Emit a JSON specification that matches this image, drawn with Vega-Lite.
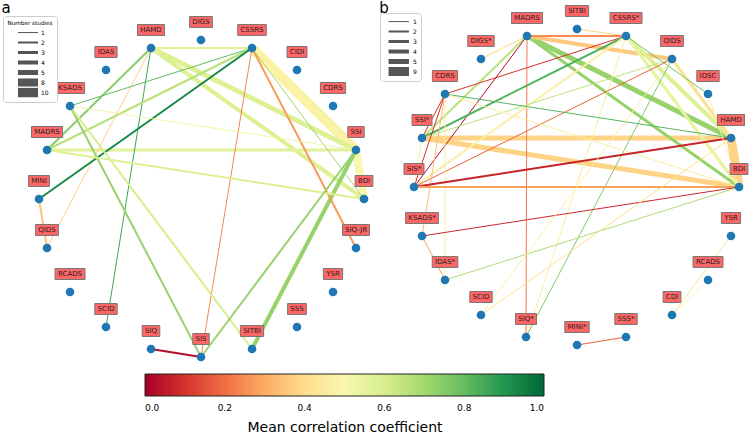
{
"$schema": "https://vega.github.io/schema/vega-lite/v6.json",
"width": 750, "height": 434,
"autosize": {"type": "fit", "contains": "padding"},
"padding": 0,
"config": {"view": {"stroke": null}, "font": "DejaVu Sans"},
"datasets": {
"nodes": [
{"id":"a:HAMD","p":"a","label":"HAMD","x":151,"y":48},
{"id":"a:DIGS","p":"a","label":"DIGS","x":201,"y":40},
{"id":"a:CSSRS","p":"a","label":"CSSRS","x":252,"y":48},
{"id":"a:IDAS","p":"a","label":"IDAS","x":106,"y":70},
{"id":"a:CIDI","p":"a","label":"CIDI","x":297,"y":70},
{"id":"a:KSADS","p":"a","label":"KSADS","x":70,"y":106},
{"id":"a:CDRS","p":"a","label":"CDRS","x":333,"y":106},
{"id":"a:MADRS","p":"a","label":"MADRS","x":47,"y":150},
{"id":"a:SSI","p":"a","label":"SSI","x":356,"y":150},
{"id":"a:MINI","p":"a","label":"MINI","x":39,"y":199},
{"id":"a:BDI","p":"a","label":"BDI","x":364,"y":199},
{"id":"a:QIDS","p":"a","label":"QIDS","x":47,"y":248},
{"id":"a:SIQ-JR","p":"a","label":"SIQ-JR","x":356,"y":248},
{"id":"a:RCADS","p":"a","label":"RCADS","x":70,"y":292},
{"id":"a:YSR","p":"a","label":"YSR","x":333,"y":292},
{"id":"a:SCID","p":"a","label":"SCID","x":106,"y":327},
{"id":"a:SSS","p":"a","label":"SSS","x":297,"y":327},
{"id":"a:SIQ","p":"a","label":"SIQ","x":151,"y":349},
{"id":"a:SITBI","p":"a","label":"SITBI","x":252,"y":349},
{"id":"a:SIS","p":"a","label":"SIS","x":201,"y":357},
{"id":"b:MADRS","p":"b","label":"MADRS","x":527,"y":36},
{"id":"b:SITBI","p":"b","label":"SITBI","x":577,"y":29},
{"id":"b:CSSRS*","p":"b","label":"CSSRS*","x":626,"y":36},
{"id":"b:DIGS*","p":"b","label":"DIGS*","x":481,"y":59},
{"id":"b:QIDS","p":"b","label":"QIDS","x":672,"y":59},
{"id":"b:CDRS","p":"b","label":"CDRS","x":445,"y":94},
{"id":"b:IDSC","p":"b","label":"IDSC","x":708,"y":94},
{"id":"b:SSI*","p":"b","label":"SSI*","x":422,"y":138},
{"id":"b:HAMD","p":"b","label":"HAMD","x":731,"y":138},
{"id":"b:SIS*","p":"b","label":"SIS*","x":414,"y":187},
{"id":"b:BDI","p":"b","label":"BDI","x":739,"y":187},
{"id":"b:KSADS*","p":"b","label":"KSADS*","x":422,"y":236},
{"id":"b:YSR","p":"b","label":"YSR","x":731,"y":236},
{"id":"b:IDAS*","p":"b","label":"IDAS*","x":445,"y":280},
{"id":"b:RCADS","p":"b","label":"RCADS","x":708,"y":280},
{"id":"b:SCID","p":"b","label":"SCID","x":481,"y":315},
{"id":"b:CDI","p":"b","label":"CDI","x":672,"y":315},
{"id":"b:SIQ*","p":"b","label":"SIQ*","x":526,"y":337},
{"id":"b:SSS*","p":"b","label":"SSS*","x":626,"y":337},
{"id":"b:MINI*","p":"b","label":"MINI*","x":577,"y":345}
],
"edges": [
{"p":"a","s":"a:CSSRS","t":"a:SSI","r":0.48,"n":10},
{"p":"a","s":"a:SSI","t":"a:BDI","r":0.5,"n":8},
{"p":"a","s":"a:HAMD","t":"a:SSI","r":0.58,"n":5},
{"p":"a","s":"a:HAMD","t":"a:BDI","r":0.58,"n":4},
{"p":"a","s":"a:MADRS","t":"a:SSI","r":0.57,"n":3},
{"p":"a","s":"a:SITBI","t":"a:SSI","r":0.72,"n":4},
{"p":"a","s":"a:HAMD","t":"a:CSSRS","r":0.57,"n":2},
{"p":"a","s":"a:HAMD","t":"a:MADRS","r":0.74,"n":2},
{"p":"a","s":"a:HAMD","t":"a:QIDS","r":0.38,"n":1},
{"p":"a","s":"a:HAMD","t":"a:SCID","r":0.86,"n":1},
{"p":"a","s":"a:CSSRS","t":"a:KSADS","r":0.8,"n":1},
{"p":"a","s":"a:CSSRS","t":"a:MADRS","r":0.66,"n":2},
{"p":"a","s":"a:CSSRS","t":"a:MINI","r":0.93,"n":2},
{"p":"a","s":"a:CSSRS","t":"a:SIS","r":0.24,"n":1},
{"p":"a","s":"a:CSSRS","t":"a:SIQ-JR","r":0.27,"n":2},
{"p":"a","s":"a:CSSRS","t":"a:BDI","r":0.7,"n":1},
{"p":"a","s":"a:KSADS","t":"a:SSI","r":0.52,"n":1},
{"p":"a","s":"a:KSADS","t":"a:SIS","r":0.72,"n":2},
{"p":"a","s":"a:KSADS","t":"a:SITBI","r":0.6,"n":2},
{"p":"a","s":"a:MADRS","t":"a:BDI","r":0.58,"n":2},
{"p":"a","s":"a:MINI","t":"a:QIDS","r":0.35,"n":2},
{"p":"a","s":"a:SIQ","t":"a:SIS","r":0.03,"n":2},
{"p":"a","s":"a:SIS","t":"a:SSI","r":0.72,"n":2},
{"p":"b","s":"b:HAMD","t":"b:BDI","r":0.38,"n":9},
{"p":"b","s":"b:SSI*","t":"b:HAMD","r":0.38,"n":5},
{"p":"b","s":"b:SSI*","t":"b:BDI","r":0.38,"n":5},
{"p":"b","s":"b:MADRS","t":"b:HAMD","r":0.72,"n":5},
{"p":"b","s":"b:MADRS","t":"b:BDI","r":0.72,"n":3},
{"p":"b","s":"b:MADRS","t":"b:QIDS","r":0.36,"n":4},
{"p":"b","s":"b:CSSRS*","t":"b:HAMD","r":0.58,"n":4},
{"p":"b","s":"b:CSSRS*","t":"b:BDI","r":0.55,"n":3},
{"p":"b","s":"b:QIDS","t":"b:HAMD","r":0.42,"n":3},
{"p":"b","s":"b:SITBI","t":"b:CSSRS*","r":0.38,"n":1},
{"p":"b","s":"b:MADRS","t":"b:CSSRS*","r":0.25,"n":2},
{"p":"b","s":"b:MADRS","t":"b:DIGS*","r":0.38,"n":1},
{"p":"b","s":"b:MADRS","t":"b:SSI*","r":0.65,"n":2},
{"p":"b","s":"b:MADRS","t":"b:SIS*","r":0.03,"n":1},
{"p":"b","s":"b:MADRS","t":"b:SIQ*","r":0.22,"n":1},
{"p":"b","s":"b:CSSRS*","t":"b:CDRS","r":0.1,"n":1},
{"p":"b","s":"b:CSSRS*","t":"b:SSI*","r":0.83,"n":2},
{"p":"b","s":"b:CSSRS*","t":"b:IDSC","r":0.78,"n":1},
{"p":"b","s":"b:CSSRS*","t":"b:SIS*","r":0.47,"n":2},
{"p":"b","s":"b:CSSRS*","t":"b:SIQ*","r":0.47,"n":1},
{"p":"b","s":"b:QIDS","t":"b:SSI*","r":0.65,"n":1},
{"p":"b","s":"b:QIDS","t":"b:SIS*","r":0.18,"n":1},
{"p":"b","s":"b:QIDS","t":"b:SIQ*","r":0.75,"n":1},
{"p":"b","s":"b:CDRS","t":"b:HAMD","r":0.82,"n":1},
{"p":"b","s":"b:CDRS","t":"b:SSI*","r":0.1,"n":1},
{"p":"b","s":"b:CDRS","t":"b:SIS*","r":0.1,"n":1},
{"p":"b","s":"b:CDRS","t":"b:KSADS*","r":0.33,"n":1},
{"p":"b","s":"b:CDRS","t":"b:IDAS*","r":0.47,"n":1},
{"p":"b","s":"b:CDRS","t":"b:BDI","r":0.47,"n":1},
{"p":"b","s":"b:SSI*","t":"b:SIS*","r":0.47,"n":1},
{"p":"b","s":"b:SIS*","t":"b:HAMD","r":0.07,"n":2},
{"p":"b","s":"b:SIS*","t":"b:BDI","r":0.28,"n":2},
{"p":"b","s":"b:KSADS*","t":"b:BDI","r":0.08,"n":1},
{"p":"b","s":"b:KSADS*","t":"b:IDAS*","r":0.28,"n":1},
{"p":"b","s":"b:IDAS*","t":"b:BDI","r":0.68,"n":1},
{"p":"b","s":"b:SCID","t":"b:QIDS","r":0.47,"n":1},
{"p":"b","s":"b:SCID","t":"b:HAMD","r":0.4,"n":1},
{"p":"b","s":"b:IDSC","t":"b:BDI","r":0.47,"n":1},
{"p":"b","s":"b:MINI*","t":"b:SSS*","r":0.18,"n":1},
{"p":"b","s":"b:YSR","t":"b:CDI","r":0.42,"n":1},
{"p":"b","s":"b:RCADS","t":"b:CDI","r":0.5,"n":1}
],
"panels": [
{"t":"a","x":6,"y":8},
{"t":"b","x":384,"y":8}
]
},
"resolve": {"scale": {"strokeWidth": "independent"}, "legend": {"strokeWidth": "independent"}},
"layer": [
{
"data": {"name": "edges"},
"transform": [
{"filter": "datum.p === 'a'"},
{"lookup": "s", "from": {"data": {"name": "nodes"}, "key": "id", "fields": ["x", "y"]}, "as": ["sx", "sy"]},
{"lookup": "t", "from": {"data": {"name": "nodes"}, "key": "id", "fields": ["x", "y"]}, "as": ["tx", "ty"]}
],
"mark": {"type": "rule", "opacity": 1},
"encoding": {
"x": {"field": "sx", "type": "quantitative", "scale": {"domain": [0, 750], "nice": false, "zero": false}, "axis": null},
"y": {"field": "sy", "type": "quantitative", "scale": {"domain": [0, 434], "nice": false, "zero": false, "reverse": true}, "axis": null},
"x2": {"field": "tx"},
"y2": {"field": "ty"},
"color": {"field": "r", "type": "quantitative", "scale": {"scheme": "redyellowgreen", "domain": [0, 1]},
"legend": {"type": "gradient", "orient": "none", "legendX": 145, "legendY": 374, "direction": "horizontal", "gradientLength": 399, "gradientThickness": 22, "gradientStrokeColor": "#222", "gradientStrokeWidth": 1, "title": "Mean correlation coefficient", "titleOrient": "bottom", "titleFontSize": 14, "titleFontWeight": "normal", "titleFont": "DejaVu Sans", "titleColor": "#000", "titleAnchor": "middle", "titlePadding": 8, "titleLimit": 500, "values": [0, 0.2, 0.4, 0.6, 0.8, 1], "format": ".1f", "labelFontSize": 9, "labelFont": "DejaVu Sans", "labelColor": "#000", "labelOffset": 8, "padding": 0}},
"strokeWidth": {"field": "n", "type": "quantitative", "scale": {"domain": [0, 10], "range": [0, 10]},
"legend": {"title": "Number studies", "orient": "none", "legendX": 3, "legendY": 16, "values": [1, 2, 3, 4, 5, 8, 10], "symbolType": "M-0.4,0H7.2", "symbolSize": 28, "symbolStrokeColor": "#555", "symbolOpacity": 1, "labelFontSize": 6, "labelFont": "DejaVu Sans", "labelColor": "#000", "titleFontSize": 5.7, "titleFont": "DejaVu Sans", "titleFontWeight": "normal", "titleColor": "#000", "titlePadding": 2, "titleAnchor": "middle", "labelOffset": 14, "padding": 4, "strokeColor": "#ccc", "fillColor": "#fff", "cornerRadius": 3, "rowPadding": 0, "clipHeight": 9.7}}
}
},
{
"data": {"name": "edges"},
"transform": [
{"filter": "datum.p === 'b'"},
{"lookup": "s", "from": {"data": {"name": "nodes"}, "key": "id", "fields": ["x", "y"]}, "as": ["sx", "sy"]},
{"lookup": "t", "from": {"data": {"name": "nodes"}, "key": "id", "fields": ["x", "y"]}, "as": ["tx", "ty"]}
],
"mark": {"type": "rule", "opacity": 1},
"encoding": {
"x": {"field": "sx", "type": "quantitative", "axis": null},
"y": {"field": "sy", "type": "quantitative", "axis": null},
"x2": {"field": "tx"},
"y2": {"field": "ty"},
"color": {"field": "r", "type": "quantitative", "scale": {"scheme": "redyellowgreen", "domain": [0, 1]}},
"strokeWidth": {"field": "n", "type": "quantitative", "scale": {"domain": [0, 10], "range": [0, 10]},
"legend": {"title": null, "orient": "none", "legendX": 380, "legendY": 13, "values": [1, 2, 3, 4, 5, 9], "symbolType": "M-1.1,0H6.6", "symbolSize": 28, "symbolStrokeColor": "#555", "symbolOpacity": 1, "labelFontSize": 6, "labelFont": "DejaVu Sans", "labelColor": "#000", "labelOffset": 14, "padding": 4, "strokeColor": "#ccc", "fillColor": "#fff", "cornerRadius": 3, "rowPadding": 0, "clipHeight": 9.2}}
}
},
{
"data": {"name": "nodes"},
"mark": {"type": "point", "filled": true, "size": 75, "color": "#1f77b4", "opacity": 1},
"encoding": {
"x": {"field": "x", "type": "quantitative", "axis": null},
"y": {"field": "y", "type": "quantitative", "axis": null}
}
},
{
"data": {"name": "nodes"},
"mark": {"type": "point", "filled": true, "size": 1600, "fill": "#ff6666", "stroke": "#777", "strokeWidth": 1, "opacity": 1, "yOffset": -18},
"encoding": {
"x": {"field": "x", "type": "quantitative", "axis": null},
"y": {"field": "y", "type": "quantitative", "axis": null},
"shape": {"field": "label", "type": "nominal", "legend": null, "scale": {
"domain": ["HAMD","DIGS","CSSRS","IDAS","CIDI","KSADS","CDRS","MADRS","SSI","MINI","BDI","QIDS","SIQ-JR","RCADS","YSR","SCID","SSS","SIQ","SITBI","SIS","CSSRS*","DIGS*","IDSC","SSI*","SIS*","KSADS*","IDAS*","CDI","SIQ*","SSS*","MINI*"],
"range": [
"M-0.675,-0.275H0.675V0.275H-0.675Z",
"M-0.57,-0.275H0.57V0.275H-0.57Z",
"M-0.715,-0.275H0.715V0.275H-0.715Z",
"M-0.555,-0.275H0.555V0.275H-0.555Z",
"M-0.5,-0.275H0.5V0.275H-0.5Z",
"M-0.73,-0.275H0.73V0.275H-0.73Z",
"M-0.63,-0.275H0.63V0.275H-0.63Z",
"M-0.775,-0.275H0.775V0.275H-0.775Z",
"M-0.41,-0.275H0.41V0.275H-0.41Z",
"M-0.52,-0.275H0.52V0.275H-0.52Z",
"M-0.445,-0.275H0.445V0.275H-0.445Z",
"M-0.57,-0.275H0.57V0.275H-0.57Z",
"M-0.675,-0.275H0.675V0.275H-0.675Z",
"M-0.75,-0.275H0.75V0.275H-0.75Z",
"M-0.48,-0.275H0.48V0.275H-0.48Z",
"M-0.56,-0.275H0.56V0.275H-0.56Z",
"M-0.47,-0.275H0.47V0.275H-0.47Z",
"M-0.44,-0.275H0.44V0.275H-0.44Z",
"M-0.58,-0.275H0.58V0.275H-0.58Z",
"M-0.41,-0.275H0.41V0.275H-0.41Z",
"M-0.8,-0.275H0.8V0.275H-0.8Z",
"M-0.66,-0.275H0.66V0.275H-0.66Z",
"M-0.56,-0.275H0.56V0.275H-0.56Z",
"M-0.5,-0.275H0.5V0.275H-0.5Z",
"M-0.5,-0.275H0.5V0.275H-0.5Z",
"M-0.82,-0.275H0.82V0.275H-0.82Z",
"M-0.64,-0.275H0.64V0.275H-0.64Z",
"M-0.445,-0.275H0.445V0.275H-0.445Z",
"M-0.525,-0.275H0.525V0.275H-0.525Z",
"M-0.56,-0.275H0.56V0.275H-0.56Z",
"M-0.61,-0.275H0.61V0.275H-0.61Z"
]}}
}
},
{
"data": {"name": "nodes"},
"mark": {"type": "text", "fontSize": 7, "font": "DejaVu Sans", "color": "#222", "dy": -18, "baseline": "middle", "align": "center"},
"encoding": {
"x": {"field": "x", "type": "quantitative", "axis": null},
"y": {"field": "y", "type": "quantitative", "axis": null},
"text": {"field": "label", "type": "nominal"}
}
},
{
"data": {"name": "panels"},
"mark": {"type": "text", "fontSize": 15, "font": "DejaVu Sans", "color": "#000", "baseline": "middle", "align": "center"},
"encoding": {
"x": {"field": "x", "type": "quantitative", "axis": null},
"y": {"field": "y", "type": "quantitative", "axis": null},
"text": {"field": "t", "type": "nominal"}
}
}
]
}
